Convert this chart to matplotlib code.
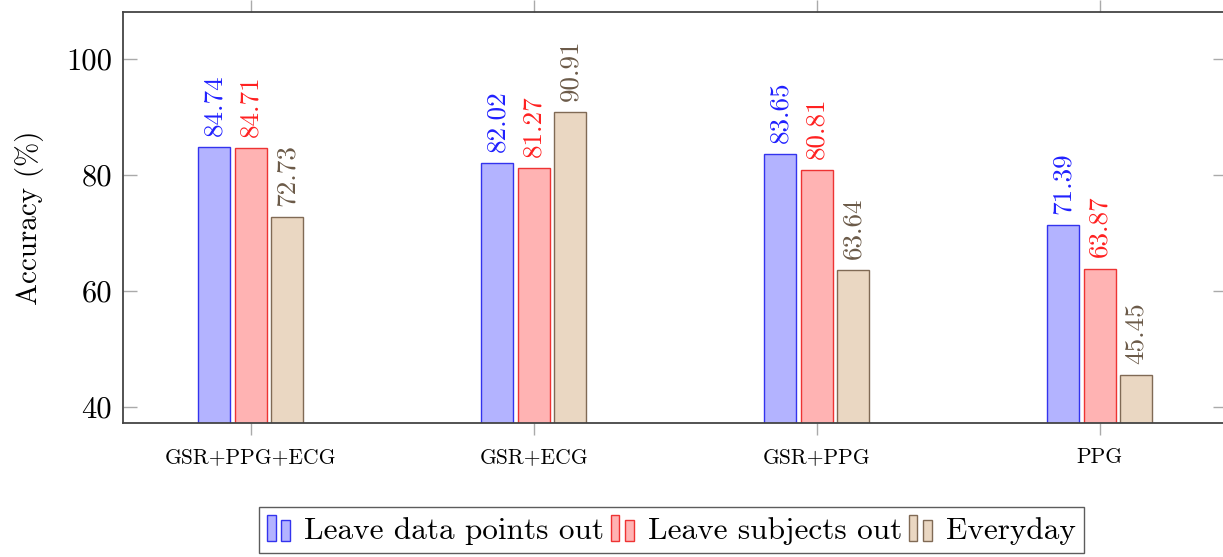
import numpy as np
import matplotlib
matplotlib.use('Agg')
from matplotlib import pyplot as plt
from matplotlib.patches import Rectangle
from matplotlib.legend_handler import HandlerBase

plt.rcParams['font.family'] = 'cmr10'
plt.rcParams['mathtext.fontset'] = 'cm'
plt.rcParams['axes.unicode_minus'] = False

categories = ['GSR+PPG+ECG', 'GSR+ECG', 'GSR+PPG', 'PPG']
series_names = ['Leave data points out', 'Leave subjects out', 'Everyday']
leave_points = [84.74, 82.02, 83.65, 71.39]
leave_subjects = [84.71, 81.27, 80.81, 63.87]
everyday = [72.73, 90.91, 63.64, 45.45]
y_ticks = [40, 60, 80, 100]

fills = ['#b3b3ff', '#ffb3b3', '#ead7c2']
edges = ['#3333ee', '#ee3333', '#806a55']
label_colors = ['#2020ff', '#ff2020', '#6b5a48']


class TwoBarHandler(HandlerBase):
    # pgfplots-style ybar legend: two small bars
    def create_artists(self, legend, orig_handle, xdescent, ydescent, width, height, fontsize, trans):
        fc = orig_handle.get_facecolor()
        ec = orig_handle.get_edgecolor()
        bw = width * 0.28
        artists = []
        for i, h in enumerate([1.0, 0.8]):
            r = Rectangle((-xdescent + i * width * 0.45, -ydescent), bw, height * h,
                          facecolor=fc, edgecolor=ec, linewidth=1.0, transform=trans)
            artists.append(r)
        return artists


fig = plt.figure(figsize=(12.23, 5.57), dpi=100)
ax = fig.add_axes([123 / 1223, 134 / 557, 1104 / 1223, 411 / 557])

x = np.arange(len(categories))
width = 0.113
step = 0.129
all_series = [leave_points, leave_subjects, everyday]
handles = []
for i, vals in enumerate(all_series):
    pos = x + (i - 1) * step
    bars = ax.bar(pos, vals, width, color=fills[i], edgecolor=edges[i], linewidth=1.0,
                  label=series_names[i], zorder=2)
    handles.append(bars[0])
    for p, v in zip(pos, vals):
        ax.annotate(f'{v:.2f}', (p, v), xytext=(0, 8), textcoords='offset points',
                    rotation=90, ha='center', va='bottom', fontsize=19.5, color=label_colors[i])

ax.set_xlim(-0.452, 3.45)
ax.set_ylim(37.24, 108.1)
ax.set_yticks(y_ticks)
ax.set_xticks(x)
ax.set_xticklabels(categories, fontsize=15.5)
ax.tick_params(axis='y', direction='in', length=10, width=1, color='#aaaaaa',
               left=True, right=True, labelsize=22, pad=8)
ax.tick_params(axis='x', direction='out', length=8.6, width=1, color='#aaaaaa',
               top=True, bottom=True, pad=9)
for s in ax.spines.values():
    s.set_color('#444444')
    s.set_linewidth(1.3)
ax.set_ylabel('Accuracy (%)', fontsize=21, labelpad=16)

leg = fig.legend(handles, series_names, loc='center', bbox_to_anchor=(671.5 / 1223, 1 - 530 / 557),
                 ncol=3, fontsize=22.5, frameon=True, fancybox=False, edgecolor='#333333',
                 handler_map={Rectangle: TwoBarHandler()}, handlelength=1.0, handleheight=0.9,
                 handletextpad=0.2, columnspacing=0.2, borderpad=0.25, borderaxespad=0)
leg.get_frame().set_linewidth(1.0)

plt.savefig('out.png', dpi=100)
plt.close()
